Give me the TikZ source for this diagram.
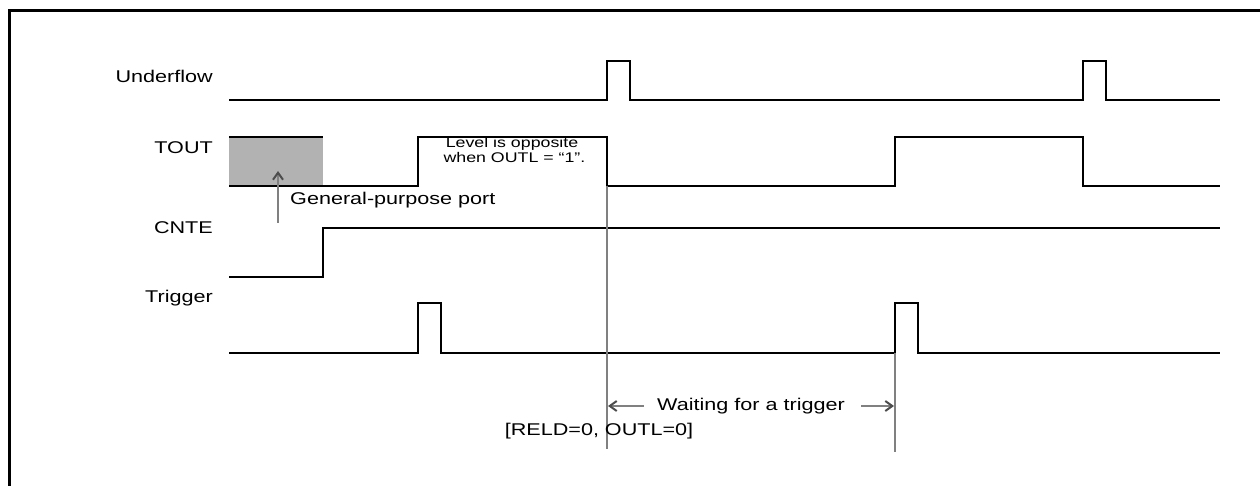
\documentclass[tikz,border=0pt]{standalone}
\usepackage{fontspec}
\setmainfont[FakeStretch=1.27]{Liberation Sans}
\usetikzlibrary{arrows.meta, positioning}

\begin{document}
\begin{tikzpicture}[
    x=1pt, y=-1pt,
    signal/.style={line width=1.6pt, black, line join=miter},
    guide/.style={line width=2pt, black!50},
    lbl/.style={font=\fontsize{17}{20}\selectfont, anchor=east, inner sep=0pt},
    note/.style={font=\fontsize{17}{20}\selectfont, inner sep=0pt},
    small/.style={font=\fontsize{14}{15}\selectfont, align=center, inner sep=0pt},
    dimarrow/.style={guide, -{Straight Barb[length=7pt, width=10pt, black!70]}}
]
\useasboundingbox (0,0) rectangle (1260,486);
\draw[line width=3pt] (9.5,490) -- (9.5,10.5) -- (1265,10.5);

% signal names
\node[lbl] (underflow) at (213,76) {Underflow};
\node[lbl] (tout) at (213,148) {TOUT};
\node[lbl] (cnte) at (213,228) {CNTE};
\node[lbl] (trigger) at (213,298) {Trigger};

% Underflow
\draw[signal] (229,100) -- (607,100) -- (607,61) -- (630,61) -- (630,100) -- (1083,100)
    -- (1083,61) -- (1106,61) -- (1106,100) -- (1220,100);

% TOUT
\fill[black!30] (229,137) rectangle (323,186);
\draw[signal] (229,137) -- (323,137);
\draw[signal] (229,186) -- (418,186) -- (418,137) -- (607,137) -- (607,186) -- (895,186)
    -- (895,137) -- (1083,137) -- (1083,186) -- (1220,186);
\node[small] (opposite) at (512,150) {Level is opposite\\\ when OUTL = “1”.};

% General-purpose port
\node[note, anchor=west] (gpport) at (290,200) {General-purpose port};
\coordinate (gpfoot) at (278,223);
\coordinate (gptip) at (278,171);
\draw[dimarrow] (gpfoot) -- (gptip);

% CNTE
\draw[signal] (229,277) -- (323,277) -- (323,228) -- (1220,228);

% Trigger
\draw[signal] (229,353) -- (418,353) -- (418,303) -- (441,303) -- (441,353) -- (895,353)
    -- (895,303) -- (918,303) -- (918,353) -- (1220,353);

% waiting interval
\coordinate (reldtop) at (607,186);
\coordinate (reldbot) at (607,449);
\coordinate (trigtop) at (895,353);
\coordinate (trigbot) at (895,452);
\draw[guide] (reldtop) -- (reldbot);
\draw[guide] (trigtop) -- (trigbot);
\node[note] (wait) at (751,406) {Waiting for a trigger};
\coordinate (waitl) at (608,406);
\coordinate (waitr) at (894,406);
\draw[dimarrow] ([xshift=-13pt]wait.west) -- (waitl);
\draw[dimarrow] ([xshift=16pt]wait.east) -- (waitr);
\node[note] (reld) at (599,431) {[RELD=0, OUTL=0]};

\end{tikzpicture}
\end{document}
